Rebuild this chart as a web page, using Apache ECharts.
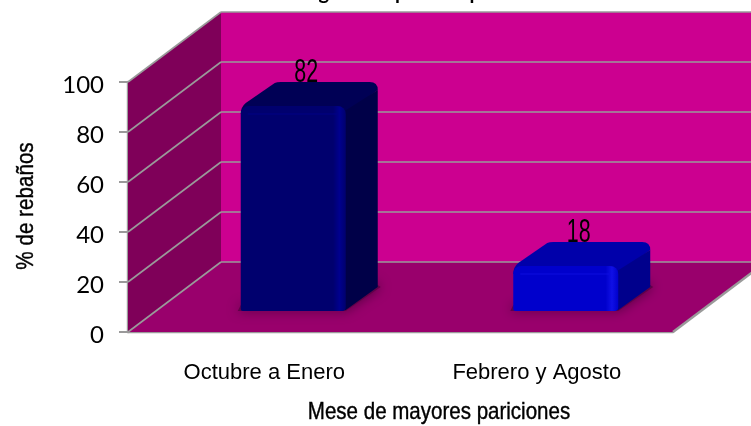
<!DOCTYPE html>
<html><head><meta charset="utf-8">
<style>html,body{margin:0;padding:0;background:#fff}#c{width:751px;height:426px}</style>
<script src="https://cdn.jsdelivr.net/npm/echarts@6/dist/echarts.min.js"></script>
</head><body><div id="c"></div>
<script>
const categories = ['Octubre a Enero', 'Febrero y Agosto'];
const values = [82, 18];
const yMax = 100, yStep = 20;
const xTitle = 'Mese de mayores pariciones';
const yTitle = '% de rebaños';
const chartTitle = 'Figura 1. Época de partos';

const DEPTH = [93, -70], BAR_DEPTH = [32, -24], BAR_BASE = [29, -21], BAR_W = 105;
const styles = [
  {front:'#00006E', hi:'#00008E', side:'#000048', top:'#000055'},
  {front:'#0000CC', hi:'#1010E6', side:'#00008C', top:'#0000AA'}
];
const chart = echarts.init(document.getElementById('c'), null, {renderer:'canvas'});

function wallsRender(params, api){
  const o = api.coord([0, 0]);
  const t = api.coord([0, yMax]);
  const size = api.size([1, 0])[0];
  const x0 = o[0] - size/2, y0 = o[1], y1 = t[1];
  const x1 = x0 + size*2;
  const dx = DEPTH[0], dy = DEPTH[1];
  const kids = [];
  const poly = (pts, fill) => kids.push({type:'polygon', shape:{points:pts}, style:{fill}});
  const line = (a, b, w) => kids.push({type:'line', shape:{x1:a[0],y1:a[1],x2:b[0],y2:b[1]}, style:{stroke:'#9A9A9A', lineWidth:w||1.6}});
  poly([[x0+dx,y0+dy],[x1+dx,y0+dy],[x1+dx,y1+dy],[x0+dx,y1+dy]], '#CC0090');
  poly([[x0,y0],[x0+dx,y0+dy],[x0+dx,y1+dy],[x0,y1]], '#7F0059');
  poly([[x0,y0],[x1,y0],[x1+dx,y0+dy],[x0+dx,y0+dy]], '#99006C');
  for (let v = 0; v <= yMax; v += yStep){
    const y = api.coord([0, v])[1];
    line([x0,y],[x0+dx,y+dy]);
    line([x0+dx,y+dy],[x1+dx,y+dy]);
  }
  line([x1,y0],[x1+dx,y0+dy], 2.4);
  return {type:'group', children:kids};
}

function barRender(params, api){
  const i = api.value(0), v = api.value(1);
  const c = api.coord([i, 0]), tp = api.coord([i, v]);
  const st = styles[i];
  const l = c[0] + BAR_BASE[0] - BAR_W/2, r = l + BAR_W;
  const b = c[1] + BAR_BASE[1], t = tp[1] + BAR_BASE[1];
  const dx = BAR_DEPTH[0], dy = BAR_DEPTH[1], q = 8;
  const shadow = {type:'polygon', shape:{points:[[l-3,b],[r,b],[r+dx+3,b+dy],[r+dx-6,b+dy-6],[r-6,b-6],[l,b-6]]},
    style:{fill:'#600048', shadowBlur:12, shadowColor:'#500040'}};
  const top = {type:'path', shape:{pathData:
    `M${l} ${t+q}Q${l} ${t+1} ${l+5} ${t-3}L${l+dx+2} ${t+dy+1}Q${l+dx+4} ${t+dy} ${l+dx+8} ${t+dy}L${r+dx-8} ${t+dy}Q${r+dx} ${t+dy} ${r+dx} ${t+dy+8}L${r} ${t+q}Z`,
    x:l,y:t+dy,width:r+dx-l,height:q-dy,layout:'cover'}, style:{fill:st.top}};
  const side = {type:'polygon', shape:{points:[[r-6,b],[r,b-1],[r+dx,b+dy],[r+dx,t+dy+8],[r-6,t+q]]},
    style:{fill:{type:'linear',x:0,y:0,x2:1,y2:0,colorStops:[{offset:0,color:st.hi},{offset:0.16,color:st.side},{offset:1,color:st.side}]}}};
  const front = {type:'rect', shape:{x:l,y:t,width:r-l,height:b-t,r:[8,8,4,2]},
    style:{fill:{type:'linear',x:0,y:0,x2:1,y2:0,colorStops:[{offset:0,color:st.front},{offset:0.88,color:st.front},{offset:0.94,color:st.hi},{offset:1,color:st.front}]}}};
  const bevel = {type:'line', shape:{x1:l+7,y1:t+8,x2:r-9,y2:t+8}, style:{stroke:st.hi, lineWidth:2, opacity:0.35}};
  const label = {type:'text', x:(l+r)/2+dx/2-3, y:t+dy+7, scaleX:0.65, z2:50,
    style:{text:String(v), fill:'#000', font:'33px "Liberation Sans"', align:'center', verticalAlign:'bottom'}};
  return {type:'group', children:[shadow, top, side, front, bevel, label]};
}

chart.setOption({
  animation:false,
  backgroundColor:'#fff',
  title:{text:chartTitle, left:297, top:-22, textStyle:{fontSize:20, fontWeight:'bold', fontFamily:'Lato', color:'#000'}},
  grid:{left:128, top:82, width:545, height:250, containLabel:false, outerBoundsMode:'none'},
  xAxis:{type:'category', data:categories,
    axisLine:{lineStyle:{color:'#9A9A9A',width:2.4}}, axisTick:{show:false},
    axisLabel:{margin:30, fontSize:22, color:'#000', fontFamily:'Liberation Sans'}},
  yAxis:{type:'value', min:0, max:yMax, interval:yStep,
    axisLine:{show:true, lineStyle:{color:'#9A9A9A',width:2.4}},
    axisTick:{show:true, length:9, lineStyle:{color:'#9A9A9A',width:2}},
    splitLine:{show:false},
    axisLabel:{margin:24, fontSize:24, color:'#000', fontFamily:'Lato', formatter:'{t|{value}}',
      rich:{t:{fontSize:24, fontFamily:'Lato', color:'#000', padding:[6,0,0,0]}}}},
  graphic:[
    {type:'text', x:439, y:412, scaleX:0.855, z:10,
     style:{text:xTitle, fill:'#000', stroke:'#000', lineWidth:0.4, font:'24px "Liberation Sans"', align:'center', verticalAlign:'middle'}},
    {type:'text', x:26, y:206, rotation:Math.PI/2, scaleX:0.86, z:10,
     style:{text:yTitle, fill:'#000', stroke:'#000', lineWidth:0.4, font:'24px "Liberation Sans"', align:'center', verticalAlign:'middle'}}
  ],
  series:[
    {type:'custom', coordinateSystem:'cartesian2d', clip:false, z:1, silent:true, renderItem:wallsRender, data:[[0,0]], encode:{x:0,y:1}},
    {type:'custom', coordinateSystem:'cartesian2d', clip:false, z:3, renderItem:barRender, data:values.map((v,i)=>[i,v]), encode:{x:0,y:1}}
  ]
});
</script></body></html>
